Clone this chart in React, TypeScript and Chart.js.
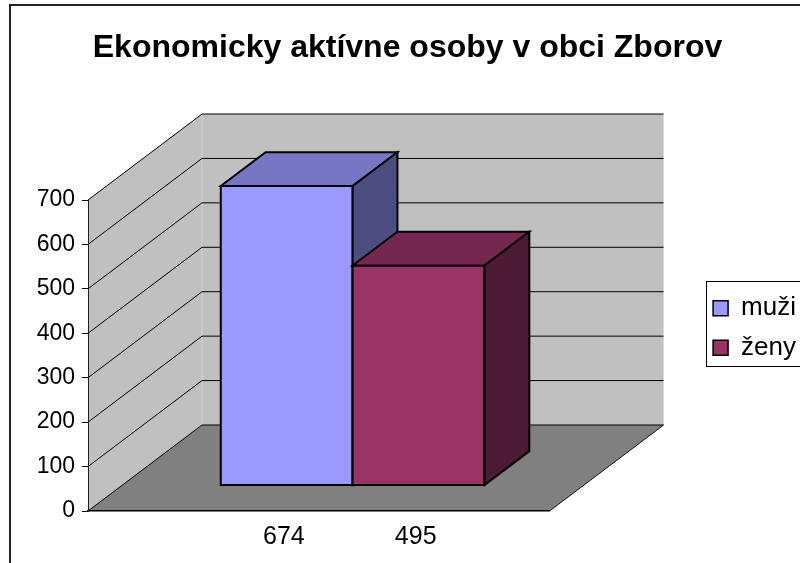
import React, { useEffect, useRef } from 'react';
import { Chart, registerables } from 'chart.js';

Chart.register(...registerables);

// ---- data ----
const TITLE = 'Ekonomicky aktívne osoby v obci Zborov';
const categories = ['674', '495'];
const seriesNames = ['muži', 'ženy'];
const seriesValues = [674, 495];
const seriesColors = ['#9999FF', '#993366'];
const yTicks = [0, 100, 200, 300, 400, 500, 600, 700];

// ---- layout / style ----
const FONT = "'Liberation Sans', Arial, Helvetica, sans-serif";
const GAP_WIDTH = 1.5; // Excel-like gap width (150%)
const barPos = (i: number) => GAP_WIDTH / 2 + i + 0.5;
const DEPTH_X = 114; // 3D depth of the walls
const DEPTH_Y = -86;
const BAR_FRONT = 0.297; // depth fraction where bar front face sits
const BAR_BACK = 0.69; // depth fraction of bar back face
const CANVAS_W = 801;
const CANVAS_H = 648;

function shade(hex: string, f: number) {
  const n = parseInt(hex.slice(1), 16);
  const r = Math.round(((n >> 16) & 255) * f);
  const g = Math.round(((n >> 8) & 255) * f);
  const b = Math.round((n & 255) * f);
  return `rgb(${r},${g},${b})`;
}

function poly(ctx: CanvasRenderingContext2D, pts: number[][], fill?: string, stroke?: string, lw = 1) {
  ctx.beginPath();
  ctx.moveTo(pts[0][0], pts[0][1]);
  for (let i = 1; i < pts.length; i++) ctx.lineTo(pts[i][0], pts[i][1]);
  ctx.closePath();
  if (fill) {
    ctx.fillStyle = fill;
    ctx.fill();
  }
  if (stroke) {
    ctx.strokeStyle = stroke;
    ctx.lineWidth = lw;
    ctx.stroke();
  }
}

const threeD: any = {
  id: 'threeD',
  beforeDraw(chart: any) {
    const ctx: CanvasRenderingContext2D = chart.ctx;
    const { left, right, top, bottom } = chart.chartArea;
    ctx.save();
    // outer chart frame
    ctx.strokeStyle = '#222';
    ctx.lineWidth = 2;
    ctx.strokeRect(1, 1, chart.width - 2, chart.height - 2);

    // left wall
    poly(ctx, [[left, bottom], [left, top], [left + DEPTH_X, top + DEPTH_Y], [left + DEPTH_X, bottom + DEPTH_Y]], '#C0C0C0');
    // back wall
    poly(ctx, [[left + DEPTH_X, top + DEPTH_Y], [right + DEPTH_X, top + DEPTH_Y], [right + DEPTH_X, bottom + DEPTH_Y], [left + DEPTH_X, bottom + DEPTH_Y]], '#C0C0C0');
    // floor
    poly(ctx, [[left, bottom], [right, bottom], [right + DEPTH_X, bottom + DEPTH_Y], [left + DEPTH_X, bottom + DEPTH_Y]], '#808080');

    // wall corner
    ctx.strokeStyle = '#D2D2D2';
    ctx.lineWidth = 1;
    ctx.beginPath();
    ctx.moveTo(left + DEPTH_X, top + DEPTH_Y);
    ctx.lineTo(left + DEPTH_X, bottom + DEPTH_Y);
    ctx.stroke();

    // floor right edge
    ctx.strokeStyle = '#111';
    ctx.beginPath();
    ctx.moveTo(right, bottom);
    ctx.lineTo(right + DEPTH_X, bottom + DEPTH_Y);
    ctx.stroke();

    // gridlines on the walls
    const ys = chart.scales.y;
    ctx.strokeStyle = '#000';
    ctx.lineWidth = 1;
    ys.ticks.forEach((t: any) => {
      const py = ys.getPixelForValue(t.value);
      ctx.beginPath();
      ctx.moveTo(left, py);
      ctx.lineTo(left + DEPTH_X, py + DEPTH_Y);
      ctx.lineTo(right + DEPTH_X, py + DEPTH_Y);
      ctx.stroke();
    });
    ctx.restore();
  },
  beforeDatasetsDraw(chart: any) {
    const ctx: CanvasRenderingContext2D = chart.ctx;
    const ox = BAR_FRONT * DEPTH_X;
    const oy = BAR_FRONT * DEPTH_Y;
    const dx = (BAR_BACK - BAR_FRONT) * DEPTH_X;
    const dy = (BAR_BACK - BAR_FRONT) * DEPTH_Y;
    ctx.save();
    ctx.lineJoin = 'miter';
    chart.data.datasets.forEach((ds: any, i: number) => {
      const meta = chart.getDatasetMeta(i);
      if (meta.hidden) return;
      meta.data.forEach((el: any) => {
        const x0 = el.x - el.width / 2 + ox;
        const x1 = el.x + el.width / 2 + ox;
        const yt = el.y + oy;
        const yb = el.base + oy;
        const col = ds.backgroundColor;
        // front
        poly(ctx, [[x0, yt], [x1, yt], [x1, yb], [x0, yb]], col, '#000', 2);
        // top
        poly(ctx, [[x0, yt], [x1, yt], [x1 + dx, yt + dy], [x0 + dx, yt + dy]], shade(col, 0.77), '#000', 2);
        // side
        poly(ctx, [[x1, yt], [x1 + dx, yt + dy], [x1 + dx, yb + dy], [x1, yb]], shade(col, 0.5), '#000', 2);
      });
    });
    ctx.restore();
    return false;
  },
  afterDraw(chart: any) {
    const lg = chart.legend;
    if (!lg || !lg.legendHitBoxes || !lg.legendHitBoxes.length) return;
    const hb = lg.legendHitBoxes;
    const ctx: CanvasRenderingContext2D = chart.ctx;
    const l = Math.min(...hb.map((h: any) => h.left)) - 7;
    const t = hb[0].top - 14;
    const last = hb[hb.length - 1];
    const b = last.top + last.height + 5;
    ctx.save();
    ctx.strokeStyle = '#000';
    ctx.lineWidth = 1;
    ctx.strokeRect(Math.round(l) + 0.5, Math.round(t) + 0.5, chart.width - Math.round(l) + 10, Math.round(b - t));
    ctx.restore();
  },
};

export default function App() {
  const ref = useRef<HTMLCanvasElement | null>(null);

  useEffect(() => {
    if (!ref.current) return;
    const datasets = seriesNames.map((name, i) => ({
      label: name,
      data: [{ x: barPos(i), y: seriesValues[i] }],
      backgroundColor: seriesColors[i],
      borderColor: '#000',
      borderWidth: 1.5,
      grouped: false,
      categoryPercentage: 1,
      barPercentage: 1,
    }));

    const chart = new Chart(ref.current, {
      type: 'bar',
      data: { datasets } as any,
      plugins: [threeD],
      options: {
        animation: false,
        responsive: false,
        devicePixelRatio: 1,
        layout: { padding: { left: 0, top: 0, right: 4, bottom: 0 } },
        plugins: {
          title: {
            display: true,
            text: TITLE,
            color: '#000',
            font: { family: FONT, size: 32, weight: 'bold' },
            padding: { top: 25.3, bottom: 132.3 },
          },
          legend: {
            display: true,
            position: 'right',
            align: 'center',
            labels: {
              boxWidth: 15,
              boxHeight: 15,
              color: '#000',
              padding: 13.5,
              font: { family: FONT, size: 26 },
            },
          },
          tooltip: { enabled: false },
        },
        scales: {
          x: {
            type: 'linear',
            min: 0,
            max: categories.length + GAP_WIDTH,
            offset: false,
            grid: { display: false, drawTicks: false },
            border: { display: true, color: '#000', width: 1.5 },
            afterBuildTicks: (axis: any) => {
              axis.ticks = categories.map((_, i) => ({ value: barPos(i) }));
            },
            afterFit: (axis: any) => {
              axis.height = 141;
            },
            ticks: {
              autoSkip: false,
              maxRotation: 0,
              minRotation: 0,
              padding: 11.5,
              labelOffset: 31,
              color: '#000',
              font: { family: FONT, size: 25 },
              callback: (_v: any, idx: number) => categories[idx],
            },
          },
          y: {
            type: 'linear',
            position: 'left',
            min: yTicks[0],
            max: yTicks[yTicks.length - 1],
            afterBuildTicks: (axis: any) => {
              axis.ticks = yTicks.map((v) => ({ value: v }));
            },
            afterFit: (axis: any) => {
              axis.width = 79;
            },
            grid: { drawOnChartArea: false, drawTicks: true, tickLength: 6, color: '#000' },
            border: { display: true, color: '#222', width: 1 },
            ticks: {
              padding: 7,
              color: '#000',
              font: { family: FONT, size: 23 },
            },
          },
          depth: {
            type: 'linear',
            position: 'right',
            display: true,
            grid: { display: false, drawTicks: false },
            border: { display: false },
            ticks: { display: false },
            afterFit: (axis: any) => {
              axis.width = 150;
            },
          },
        },
      } as any,
    });
    return () => chart.destroy();
  }, []);

  return (
    <div
      style={{
        position: 'fixed',
        left: 0,
        top: 0,
        width: 800,
        height: 563,
        overflow: 'hidden',
        background: '#fff',
      }}
    >
      <canvas
        ref={ref}
        width={CANVAS_W}
        height={CANVAS_H}
        style={{ position: 'absolute', left: 9, top: 4, width: CANVAS_W, height: CANVAS_H }}
      />
    </div>
  );
}
